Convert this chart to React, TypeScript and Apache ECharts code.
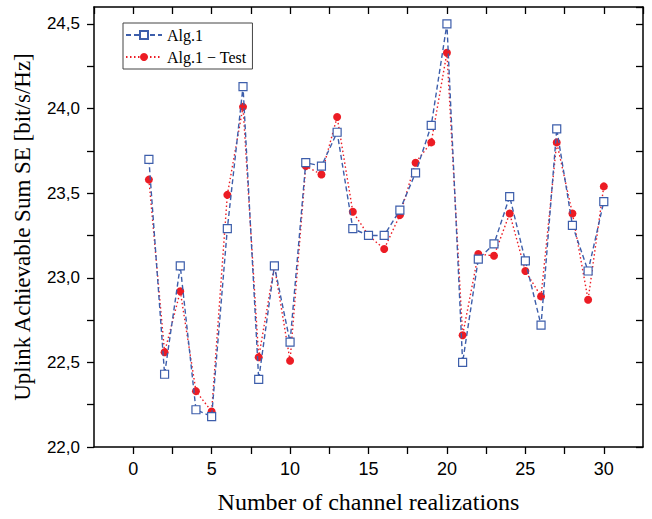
import React, { useEffect, useRef } from "react";
import * as echarts from "echarts";

const realizations = [1, 2, 3, 4, 5, 6, 7, 8, 9, 10, 11, 12, 13, 14, 15, 16, 17, 18, 19, 20, 21, 22, 23, 24, 25, 26, 27, 28, 29, 30];
const alg1 = [23.70, 22.43, 23.07, 22.22, 22.18, 23.29, 24.13, 22.40, 23.07, 22.62, 23.68, 23.66, 23.86, 23.29, 23.25, 23.25, 23.40, 23.62, 23.90, 24.50, 22.50, 23.11, 23.20, 23.48, 23.10, 22.72, 23.88, 23.31, 23.04, 23.45];
const alg1Test = [23.58, 22.56, 22.92, 22.33, 22.21, 23.49, 24.01, 22.53, 23.07, 22.51, 23.66, 23.61, 23.95, 23.39, 23.25, 23.17, 23.37, 23.68, 23.80, 24.33, 22.66, 23.14, 23.13, 23.38, 23.04, 22.89, 23.80, 23.38, 22.87, 23.54];
const seriesNames = ["Alg.1", "Alg.1 \u2212 Test"];
const xTitle = "Number of channel realizations";
const yTitle = "Uplink Achievable Sum SE [bit/s/Hz]";

const BLUE = "#3d5eab";
const RED = "#ec1c24";
const SERIF = "'Liberation Serif', 'DejaVu Serif', serif";
const SANS = "'Liberation Sans', Arial, sans-serif";

export default function App() {
  const ref = useRef<HTMLDivElement>(null);
  useEffect(() => {
    if (!ref.current) return;
    const chart = echarts.init(ref.current, null, { renderer: "svg" });
    const axisLine = { show: true, onZero: false, lineStyle: { color: "#000", width: 1.5 } };
    const tick = { show: true, length: 7, lineStyle: { color: "#000", width: 1.3 } };
    chart.setOption({
      animation: false,
      backgroundColor: "#fff",
      grid: { left: 94, right: 9, top: 7, bottom: 69 },
      legend: {
        orient: "vertical",
        left: 123,
        top: 23,
        padding: [4, 6, 4, 2],
        itemGap: 6,
        itemWidth: 36,
        itemHeight: 10,
        borderColor: "#444",
        borderWidth: 1,
        textStyle: { fontFamily: SERIF, fontSize: 16, color: "#000" },
        data: seriesNames,
      },
      xAxis: [
        {
          type: "value",
          min: -2.5,
          max: 32.5,
          interval: 2.5,
          position: "bottom",
          splitLine: { show: false },
          axisLine,
          axisTick: tick,
          axisLabel: {
            margin: 13,
            fontFamily: SANS,
            fontSize: 18,
            color: "#000",
            showMinLabel: false,
            showMaxLabel: false,
            formatter: (v: number) => (Math.abs(v % 5) < 1e-9 ? String(v) : ""),
          },
          name: xTitle,
          nameLocation: "middle",
          nameGap: 43,
          nameTextStyle: { fontFamily: SERIF, fontSize: 24, color: "#000" },
        },
        {
          type: "value",
          min: -2.5,
          max: 32.5,
          interval: 2.5,
          position: "top",
          splitLine: { show: false },
          axisLine,
          axisTick: { ...tick, inside: true },
          axisLabel: { show: false },
        },
      ],
      yAxis: [
        {
          type: "value",
          min: 22,
          max: 24.6,
          interval: 0.25,
          position: "left",
          splitLine: { show: false },
          axisLine,
          axisTick: tick,
          axisLabel: {
            margin: 14,
            fontFamily: SANS,
            fontSize: 17,
            color: "#000",
            showMaxLabel: false,
            formatter: (v: number) =>
              Math.abs((v * 2) % 1) < 1e-9 ? v.toFixed(1).replace(".", ",") : "",
          },
          name: yTitle,
          nameLocation: "middle",
          nameGap: 60,
          nameTextStyle: { fontFamily: SERIF, fontSize: 23, color: "#000" },
        },
        {
          type: "value",
          min: 22,
          max: 24.6,
          interval: 0.25,
          position: "right",
          splitLine: { show: false },
          axisLine,
          axisTick: { ...tick, inside: true },
          axisLabel: { show: false },
        },
      ],
      series: [
        {
          name: seriesNames[0],
          type: "line",
          z: 3,
          data: realizations.map((x, i) => [x, alg1[i]]),
          symbol: "rect",
          symbolSize: 8,
          itemStyle: { color: "#fff", borderColor: BLUE, borderWidth: 1.2 },
          lineStyle: { color: BLUE, width: 1.4, type: [5, 3] },
        },
        {
          name: seriesNames[1],
          type: "line",
          z: 2,
          data: realizations.map((x, i) => [x, alg1Test[i]]),
          symbol: "circle",
          symbolSize: 8,
          itemStyle: { color: RED, borderWidth: 0 },
          lineStyle: { color: RED, width: 1.4, type: [1.5, 2.5] },
        },
      ],
    });
    return () => chart.dispose();
  }, []);
  return (
    <div
      ref={ref}
      style={{ position: "fixed", left: 0, top: 0, width: 652, height: 519 }}
    />
  );
}
